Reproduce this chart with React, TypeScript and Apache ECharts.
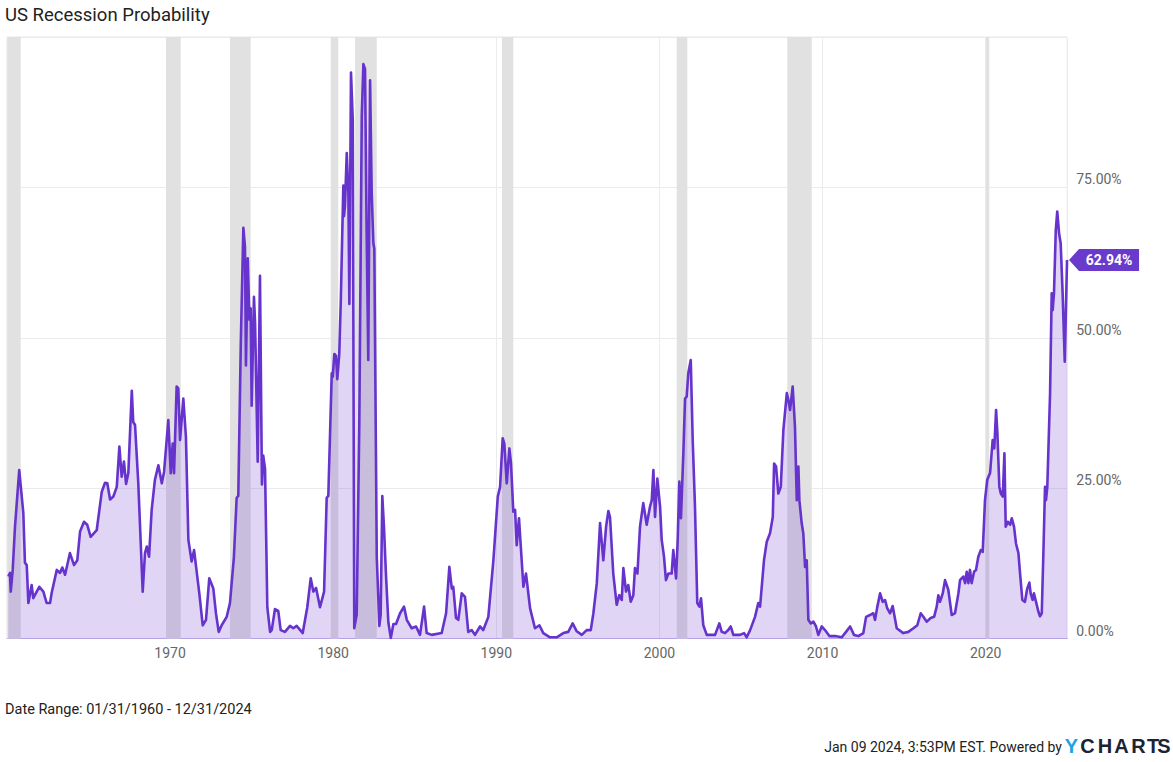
import React, { useEffect, useRef } from "react";
import * as echarts from "echarts";

// [decimal year, recession probability %]
const s1960s: [number, number][] = [
  [1960.08, 10.3], [1960.18, 10.9], [1960.23, 7.8], [1960.35, 11.4], [1960.49, 18.6], [1960.75, 28], [1961.0, 20.9],
  [1961.1, 12.6], [1961.21, 12.2], [1961.31, 5.9], [1961.51, 8.9], [1961.61, 6.7], [1961.98, 8.6], [1962.23, 7.8],
  [1962.43, 5.9], [1962.64, 5.9], [1962.74, 7.6], [1963.05, 11.4], [1963.25, 10.9], [1963.39, 11.8], [1963.56, 10.6],
  [1963.86, 14.2], [1964.11, 12.2], [1964.31, 13], [1964.48, 17.8], [1964.72, 19.4], [1964.92, 18.9], [1965.13, 16.9],
  [1965.5, 18], [1965.81, 24.4], [1966.01, 25.9], [1966.15, 25.8], [1966.32, 23.1], [1966.52, 23.6], [1966.73, 25.2],
  [1966.89, 31.9], [1967.03, 26.9], [1967.17, 29.4], [1967.3, 25.7], [1967.44, 27.5], [1967.65, 41.2], [1967.74, 36],
  [1967.85, 35.5], [1968.05, 25.8], [1968.32, 7.8], [1968.46, 14.2], [1968.57, 15.3], [1968.71, 13.6], [1968.87, 21.4],
  [1969.07, 26.4], [1969.28, 28.8], [1969.49, 25.8], [1969.63, 27.7], [1969.89, 36.3],
];
const s1970s: [number, number][] = [
  [1970.04, 27.5], [1970.16, 32.4], [1970.24, 27.5], [1970.4, 41.9], [1970.5, 41.6], [1970.61, 33], [1970.81, 39.9],
  [1970.97, 33.5], [1971.12, 16.4], [1971.32, 12.8], [1971.47, 14.7], [1971.79, 7.5], [1972.0, 2.2], [1972.2, 3.1],
  [1972.4, 10], [1972.65, 8.3], [1972.81, 4.2], [1972.98, 1.1], [1973.16, 2.2], [1973.47, 3.6], [1973.67, 5.9],
  [1973.91, 13.5], [1974.08, 23.4], [1974.18, 23.7], [1974.33, 48.5], [1974.49, 68.3], [1974.59, 65.1], [1974.65, 45.4],
  [1974.76, 63.2], [1974.86, 53], [1974.94, 54.9], [1975.0, 38.7], [1975.14, 56.8], [1975.21, 52.4], [1975.37, 29.4],
  [1975.51, 60.3], [1975.63, 25.6], [1975.71, 30.4], [1975.82, 28.2], [1975.96, 5.2], [1976.13, 1.1], [1976.23, 1.4],
  [1976.43, 4.9], [1976.63, 4.6], [1976.78, 1.4], [1977.04, 1.1], [1977.35, 2.1], [1977.55, 1.7], [1977.76, 2.1],
  [1978.13, 0.9], [1978.41, 5.2], [1978.62, 10], [1978.78, 7.8], [1978.95, 8.4], [1979.19, 5.2], [1979.44, 7.8],
  [1979.6, 23.4], [1979.7, 23.7], [1979.91, 44.1], [1979.97, 43.5],
];
const s1980s: [number, number][] = [
  [1980.07, 47.3], [1980.17, 47], [1980.25, 43.1], [1980.37, 47.3], [1980.46, 55.6], [1980.62, 75.3], [1980.66, 70.2],
  [1980.72, 72], [1980.83, 80.7], [1980.93, 74], [1980.99, 55.6], [1981.09, 94.1], [1981.2, 86.1], [1981.29, 1.7],
  [1981.44, 4], [1981.6, 35.8], [1981.75, 86.8], [1981.85, 95.5], [1981.95, 94.7], [1982.05, 67.6], [1982.15, 46.3],
  [1982.26, 92.8], [1982.36, 74], [1982.46, 65.8], [1982.52, 64.8], [1982.67, 13.5], [1982.83, 2.1], [1982.91, 4],
  [1983.01, 23.7], [1983.11, 18.6], [1983.24, 10.3], [1983.38, 2.7], [1983.53, 0.1], [1983.69, 2.4], [1983.85, 2.4],
  [1984.1, 4.2], [1984.34, 5.3], [1984.51, 3.1], [1984.81, 1.7], [1985.08, 2], [1985.32, 0.6], [1985.57, 5.3],
  [1985.73, 0.9], [1986.04, 0.6], [1986.65, 0.9], [1986.92, 4.2], [1987.12, 11.9], [1987.27, 8.3], [1987.36, 8.6],
  [1987.53, 3.4], [1987.67, 3.1], [1987.88, 7.5], [1988.08, 6.9], [1988.28, 1.1], [1988.49, 1.4], [1988.69, 0.6],
  [1989.0, 2], [1989.2, 1.4], [1989.51, 3.6], [1989.82, 13],
];
const s1990s: [number, number][] = [
  [1990.09, 23.6], [1990.23, 25.2], [1990.39, 33.3], [1990.49, 32.4], [1990.64, 25.8], [1990.8, 31.6], [1990.9, 29.1],
  [1991.04, 21.1], [1991.15, 21.4], [1991.25, 15.5], [1991.39, 20], [1991.5, 15.3], [1991.66, 8.6], [1991.82, 10.8],
  [1992.07, 5], [1992.37, 1.7], [1992.64, 2.2], [1992.88, 0.9], [1993.29, 0.2], [1993.7, 0.2], [1994.11, 0.9],
  [1994.41, 1.1], [1994.68, 2.5], [1994.93, 1.2], [1995.24, 0.6], [1995.54, 1.4], [1995.79, 1.4], [1995.95, 4.2],
  [1996.16, 9.2], [1996.36, 19.2], [1996.56, 13], [1996.73, 18.6], [1996.87, 21.2], [1996.97, 20.2], [1997.17, 10.8],
  [1997.38, 5.6], [1997.54, 7.2], [1997.69, 6.4], [1997.79, 11.7], [1997.95, 7.8], [1998.09, 8.9], [1998.24, 6.1],
  [1998.4, 7.2], [1998.5, 11.7], [1998.65, 10.8], [1998.81, 18.6], [1999.01, 22.5], [1999.22, 18.9], [1999.42, 21.9],
  [1999.53, 23], [1999.63, 28], [1999.73, 20.2], [1999.87, 26.6],
];
const s2000s: [number, number][] = [
  [2000.04, 21.9], [2000.14, 16.4], [2000.28, 13.6], [2000.4, 9.7], [2000.55, 10.8], [2000.75, 10.8], [2000.85, 14.7],
  [2001.02, 10], [2001.12, 16.4], [2001.22, 26.1], [2001.32, 20], [2001.47, 31.1], [2001.57, 39.9], [2001.67, 40.2],
  [2001.77, 44.1], [2001.92, 46.3], [2002.04, 33], [2002.18, 21.9], [2002.32, 5.9], [2002.45, 5.3], [2002.55, 6.7],
  [2002.69, 2.2], [2002.9, 0.6], [2003.41, 0.6], [2003.67, 2.5], [2003.82, 1.1], [2004.02, 0.9], [2004.22, 1.4],
  [2004.37, 2], [2004.53, 0.6], [2004.94, 0.6], [2005.19, 0.9], [2005.35, 0.2], [2005.56, 1.4], [2005.86, 3.6],
  [2006.06, 5.9], [2006.17, 5.3], [2006.41, 13], [2006.58, 16.1], [2006.78, 17.5], [2006.95, 20.2], [2007.03, 29.1],
  [2007.15, 28.6], [2007.29, 24.1], [2007.44, 25.2], [2007.6, 34.7], [2007.81, 40.8], [2007.9, 39.7], [2008.01, 38],
  [2008.17, 41.9], [2008.31, 35.2], [2008.42, 23], [2008.52, 28.6], [2008.58, 23], [2008.72, 19.2], [2008.82, 17.5],
  [2008.93, 11.9], [2009.03, 13], [2009.13, 3.1], [2009.28, 2.5], [2009.44, 2.8], [2009.6, 2], [2009.74, 0.6],
  [2009.95, 2],
];
const s2010s: [number, number][] = [
  [2010.15, 1.4], [2010.42, 0.4], [2010.77, 0.4], [2011.18, 0.2], [2011.44, 1.1], [2011.69, 2], [2011.93, 0.6],
  [2012.2, 0.4], [2012.5, 0.9], [2012.67, 3.6], [2012.91, 3.9], [2013.11, 4.2], [2013.22, 3.1], [2013.36, 5.3],
  [2013.53, 7.5], [2013.69, 6.1], [2013.83, 6.4], [2013.97, 5], [2014.14, 4.2], [2014.3, 5.4], [2014.38, 4.2],
  [2014.55, 1.7], [2014.75, 1.3], [2014.95, 0.9], [2015.26, 1.1], [2015.57, 1.7], [2015.81, 2.2], [2016.02, 4.2],
  [2016.18, 3.6], [2016.39, 2.8], [2016.63, 3.4], [2016.84, 3.6], [2017.0, 5.3], [2017.1, 7.2], [2017.2, 6.1],
  [2017.37, 7.5], [2017.51, 9.7], [2017.71, 8.1], [2017.92, 3.9], [2018.12, 4.2], [2018.33, 7.5], [2018.43, 9.7],
  [2018.63, 10.3], [2018.74, 9.2], [2018.84, 11.1], [2018.94, 9.2], [2019.04, 11.4], [2019.14, 9.2], [2019.29, 11.1],
  [2019.41, 11.4], [2019.55, 13.6], [2019.7, 14.7], [2019.82, 14.4], [2019.96, 23],
];
const s2020s: [number, number][] = [
  [2020.1, 26.4], [2020.27, 27.5], [2020.43, 33], [2020.53, 31.6], [2020.64, 38], [2020.72, 34.1], [2020.84, 25.2],
  [2020.93, 24.1], [2021.05, 23.6], [2021.15, 30.8], [2021.23, 18.6], [2021.36, 19.4], [2021.5, 18.9], [2021.6, 20],
  [2021.74, 18.6], [2021.86, 15.8], [2022.01, 14.2], [2022.11, 10.8], [2022.25, 6.4], [2022.41, 6.1], [2022.55, 8.3],
  [2022.68, 9.3], [2022.76, 7.5], [2022.88, 6.4], [2022.96, 7.5], [2023.09, 6.1], [2023.23, 4.5], [2023.33, 3.7],
  [2023.44, 4.2], [2023.54, 14.2], [2023.64, 25.2], [2023.7, 23], [2023.78, 25.2], [2023.95, 40.8], [2024.05, 57.4],
  [2024.11, 54.6], [2024.19, 57.4], [2024.3, 67.9], [2024.39, 71], [2024.5, 67.4], [2024.6, 65.7], [2024.72, 57.4],
  [2024.85, 46], [2024.99, 62.94],
];

const recessionStarts = [1960.02, 1969.75, 1973.67, 1979.85, 1981.34, 1990.35, 2001.06, 2007.84, 2020.02];
const recessionEnds = [1960.84, 1970.65, 1974.94, 1980.31, 1982.67, 1991.04, 2001.71, 2009.34, 2020.22];

const xTickYears = [1970, 1980, 1990, 2000, 2010, 2020];
const yTickValues = [0, 25, 50, 75];
const latestPoint: [number, number] = [2024.99, 62.94];
const latestLabel = "62.94%";

const titleText = "US Recession Probability";
const dateRangeText = "Date Range: 01/31/1960 - 12/31/2024";
const footerText = "Jan 09 2024, 3:53PM EST. Powered by";
const logoLetters = ["Y", "C", "H", "A", "R", "T", "S"];
const logoCenters = [1071.5, 1087.5, 1105, 1121.5, 1138.5, 1153, 1164];

const LINE = "#6633cc";
const FONT = "Roboto";

export default function App() {
  const ref = useRef<HTMLDivElement>(null);
  useEffect(() => {
    const chart = echarts.init(ref.current!, null, { renderer: "svg" });
    const data = [...s1960s, ...s1970s, ...s1980s, ...s1990s, ...s2000s, ...s2010s, ...s2020s];
    const logo = logoLetters.map((ch, i) => ({
      type: "text",
      x: logoCenters[i],
      y: 746,
      style: {
        text: ch,
        fill: i === 0 ? "#1ea4e0" : "#1b2433",
        fontSize: 20,
        fontWeight: "bold",
        fontFamily: "Liberation Sans",
        textAlign: "center",
        textVerticalAlign: "middle",
      },
    }));
    chart.setOption({
      animation: false,
      backgroundColor: "#ffffff",
      textStyle: { fontFamily: FONT },
      grid: {
        left: 7,
        right: 105.8,
        top: 37,
        bottom: 123.5,
        show: true,
        borderColor: "#e6e6e6",
        borderWidth: 1,
        containLabel: false,
      },
      xAxis: {
        type: "value",
        min: 1960,
        max: 2025,
        interval: 10,
        axisLine: { show: true, lineStyle: { color: "#bfb0e6", width: 1 } },
        axisTick: { show: false },
        axisLabel: {
          color: "#666666",
          fontSize: 14,
          fontFamily: FONT,
          margin: 7,
          formatter: (v: number) => (xTickYears.includes(Math.round(v)) ? String(Math.round(v)) : ""),
        },
        splitLine: { show: true, lineStyle: { color: "#ececec", width: 1 } },
      },
      yAxis: {
        type: "value",
        position: "right",
        min: 0,
        max: 100,
        interval: 25,
        axisLine: { show: false },
        axisTick: { show: false },
        axisLabel: {
          color: "#666666",
          fontSize: 14,
          fontFamily: FONT,
          margin: 9,
          verticalAlign: "bottom",
          lineHeight: 16,
          formatter: (v: number) => (yTickValues.includes(v) ? v.toFixed(2) + "%" : ""),
        },
        splitLine: { show: true, lineStyle: { color: "#ebebeb", width: 1 } },
      },
      series: [
        {
          type: "line",
          data: [],
          z: 1,
          silent: true,
          markArea: {
            silent: true,
            itemStyle: { color: "#e1e1e1" },
            data: recessionStarts.map((s, i) => [{ xAxis: s }, { xAxis: recessionEnds[i] }]),
          },
        },
        {
          type: "line",
          data,
          z: 3,
          symbol: "none",
          showSymbol: false,
          lineStyle: { color: LINE, width: 2.6, join: "round" },
          areaStyle: { color: "rgba(102,51,204,0.29)", origin: "start" },
          markPoint: {
            silent: true,
            symbol: "path://M0,11L10,0L70,0L70,22L10,22Z",
            symbolSize: [70, 22],
            symbolOffset: [37, 0],
            itemStyle: { color: "#6a3acc" },
            label: {
              show: true,
              position: "inside",
              offset: [5, 0],
              formatter: latestLabel,
              color: "#ffffff",
              fontWeight: "bold",
              fontSize: 14,
              fontFamily: FONT,
            },
            data: [{ coord: latestPoint }],
          },
        },
      ],
      graphic: [
        {
          type: "text",
          x: 5,
          y: 15,
          style: {
            text: titleText,
            fill: "#222222",
            fontSize: 18.5,
            fontFamily: FONT,
            textVerticalAlign: "middle",
          },
        },
        {
          type: "text",
          x: 5,
          y: 709,
          style: {
            text: dateRangeText,
            fill: "#222222",
            fontSize: 14.5,
            fontFamily: FONT,
            textVerticalAlign: "middle",
          },
        },
        {
          type: "text",
          x: 1062,
          y: 747,
          style: {
            text: footerText,
            fill: "#222222",
            fontSize: 14,
            fontFamily: FONT,
            textAlign: "right",
            textVerticalAlign: "middle",
          },
        },
        ...logo,
      ],
    });
    return () => chart.dispose();
  }, []);
  return <div ref={ref} style={{ position: "absolute", left: 0, top: 0, width: 1173, height: 762 }} />;
}
